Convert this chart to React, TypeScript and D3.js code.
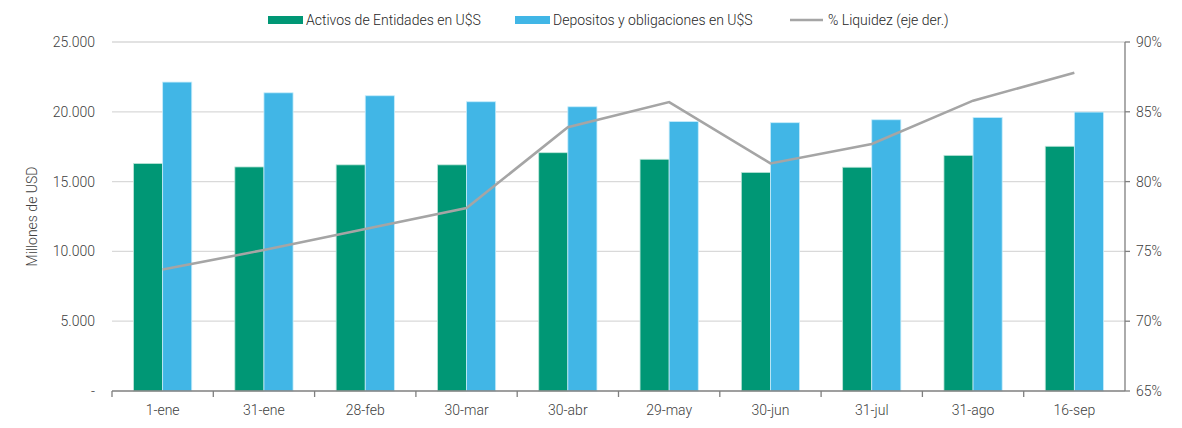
import React, { useEffect, useRef } from "react";
import * as d3 from "d3";

// fechas del eje x
const categories = [
  "1-ene", "31-ene", "28-feb", "30-mar", "30-abr",
  "29-may", "30-jun", "31-jul", "31-ago", "16-sep",
];
// millones de USD
const activos = [16300, 16050, 16200, 16200, 17070, 16600, 15660, 16030, 16880, 17530];
const depositos = [22130, 21360, 21150, 20720, 20360, 19300, 19220, 19430, 19590, 19980];
// % liquidez (eje der.)
const liquidez = [73.7, 75.1, 76.6, 78.1, 83.9, 85.7, 81.3, 82.7, 85.8, 87.8];

const leftTicks = [0, 5000, 10000, 15000, 20000, 25000];
const rightTicks = [65, 70, 75, 80, 85, 90];

const seriesNames = [
  "Activos de Entidades en U$S",
  "Depositos y obligaciones en U$S",
  "% Liquidez (eje der.)",
];

const GREEN = "#009775";
const BLUE = "#41b6e6";
const GREY = "#a5a5a5";
const FONT = "'Roboto', sans-serif";

export default function App() {
  const ref = useRef<SVGSVGElement>(null);

  useEffect(() => {
    const width = 1182,
      height = 428;
    const margin = { top: 42, right: 57, bottom: 37, left: 112 };

    const svg = d3.select(ref.current);
    svg.selectAll("*").remove();
    svg
      .attr("width", width)
      .attr("height", height)
      .style("font-family", FONT)
      .style("font-weight", 300);

    const x = d3
      .scaleBand()
      .domain(categories)
      .range([margin.left, width - margin.right]);
    const inner = d3
      .scaleBand()
      .domain(["a", "d"])
      .range([0, x.bandwidth()])
      .paddingOuter(0.74);
    const y = d3
      .scaleLinear()
      .domain([0, 25000])
      .range([height - margin.bottom, margin.top]);
    const y2 = d3
      .scaleLinear()
      .domain([65, 90])
      .range([height - margin.bottom, margin.top]);

    // grid
    svg
      .append("g")
      .selectAll("line")
      .data(leftTicks.slice(1))
      .join("line")
      .attr("x1", margin.left)
      .attr("x2", width - margin.right)
      .attr("y1", (d) => y(d))
      .attr("y2", (d) => y(d))
      .attr("stroke", "#d9d9d9")
      .attr("stroke-width", 1.3);

    // left labels
    const fmt = d3.formatLocale({
      decimal: ",",
      thousands: ".",
      grouping: [3],
      currency: ["$", ""],
    }).format(",.0f");
    svg
      .append("g")
      .selectAll("text")
      .data(leftTicks)
      .join("text")
      .attr("x", margin.left - 17)
      .attr("y", (d) => y(d))
      .attr("dy", "0.35em")
      .attr("text-anchor", "end")
      .attr("font-size", 14)
      .attr("fill", "#404040")
      .text((d) => (d === 0 ? "-" : fmt(d)));

    svg
      .append("text")
      .attr("transform", `translate(37,${(margin.top + height - margin.bottom) / 2}) rotate(-90)`)
      .attr("text-anchor", "middle")
      .attr("font-size", 14)
      .attr("fill", "#404040")
      .text("Millones de USD");

    // bars
    const groups = svg
      .append("g")
      .selectAll("g")
      .data(categories)
      .join("g")
      .attr("transform", (d) => `translate(${x(d)},0)`);
    groups
      .append("rect")
      .attr("x", inner("a")!)
      .attr("width", inner.bandwidth())
      .attr("y", (_, i) => y(activos[i]))
      .attr("height", (_, i) => y(0) - y(activos[i]))
      .attr("fill", GREEN)
      .attr("stroke", "#bfe5da")
      .attr("stroke-width", 0.8);
    groups
      .append("rect")
      .attr("x", inner("d")!)
      .attr("width", inner.bandwidth())
      .attr("y", (_, i) => y(depositos[i]))
      .attr("height", (_, i) => y(0) - y(depositos[i]))
      .attr("fill", BLUE)
      .attr("stroke", "#c6ecfa")
      .attr("stroke-width", 0.8);

    // x axis
    const xAxis = svg
      .append("g")
      .attr("transform", `translate(0,${y(0)})`);
    xAxis
      .append("line")
      .attr("x1", margin.left)
      .attr("x2", width - margin.right)
      .attr("stroke", "#7f7f7f")
      .attr("stroke-width", 1.3);
    xAxis
      .selectAll("line.tick")
      .data(categories)
      .join("line")
      .attr("class", "tick")
      .attr("x1", (d) => x(d)!)
      .attr("x2", (d) => x(d)!)
      .attr("y2", 6)
      .attr("stroke", "#7f7f7f")
      .attr("stroke-width", 1.3);
    xAxis
      .selectAll("text")
      .data(categories)
      .join("text")
      .attr("x", (d) => x(d)! + x.bandwidth() / 2)
      .attr("y", 24)
      .attr("text-anchor", "middle")
      .attr("font-size", 14)
      .attr("fill", "#404040")
      .text((d) => d);

    // right axis
    const rx = width - margin.right;
    const rAxis = svg.append("g");
    rAxis
      .append("line")
      .attr("x1", rx)
      .attr("x2", rx)
      .attr("y1", y2(90))
      .attr("y2", y2(65))
      .attr("stroke", "#7f7f7f")
      .attr("stroke-width", 1.3);
    rAxis
      .selectAll("line.tick")
      .data(rightTicks)
      .join("line")
      .attr("class", "tick")
      .attr("x1", rx)
      .attr("x2", rx + 5)
      .attr("y1", (d) => y2(d))
      .attr("y2", (d) => y2(d))
      .attr("stroke", "#7f7f7f")
      .attr("stroke-width", 1.3);
    rAxis
      .selectAll("text")
      .data(rightTicks)
      .join("text")
      .attr("x", rx + 11)
      .attr("y", (d) => y2(d))
      .attr("dy", "0.35em")
      .attr("font-size", 14)
      .attr("fill", "#404040")
      .text((d) => `${d}%`);

    // line
    const line = d3
      .line<number>()
      .x((_, i) => x(categories[i])! + x.bandwidth() / 2)
      .y((d) => y2(d));
    svg
      .append("path")
      .datum(liquidez)
      .attr("d", line)
      .attr("fill", "none")
      .attr("stroke", GREY)
      .attr("stroke-width", 2.6);

    // legend
    const legend = svg.append("g").attr("font-size", 14).attr("fill", "#262626");
    const items = [
      { x: 268, kind: "rect", color: GREEN },
      { x: 515, kind: "rect", color: BLUE },
      { x: 790, kind: "line", color: GREY },
    ];
    items.forEach((it, i) => {
      if (it.kind === "rect") {
        legend
          .append("rect")
          .attr("x", it.x)
          .attr("y", 16)
          .attr("width", 35)
          .attr("height", 8)
          .attr("fill", it.color);
      } else {
        legend
          .append("line")
          .attr("x1", it.x)
          .attr("x2", it.x + 33)
          .attr("y1", 20)
          .attr("y2", 20)
          .attr("stroke", it.color)
          .attr("stroke-width", 2.6);
      }
      legend
        .append("text")
        .attr("x", it.x + 38)
        .attr("y", 20)
        .attr("dy", "0.35em")
        .text(seriesNames[i]);
    });
  }, []);

  return <svg ref={ref} style={{ display: "block", position: "absolute", left: 0, top: 0 }} />;
}
